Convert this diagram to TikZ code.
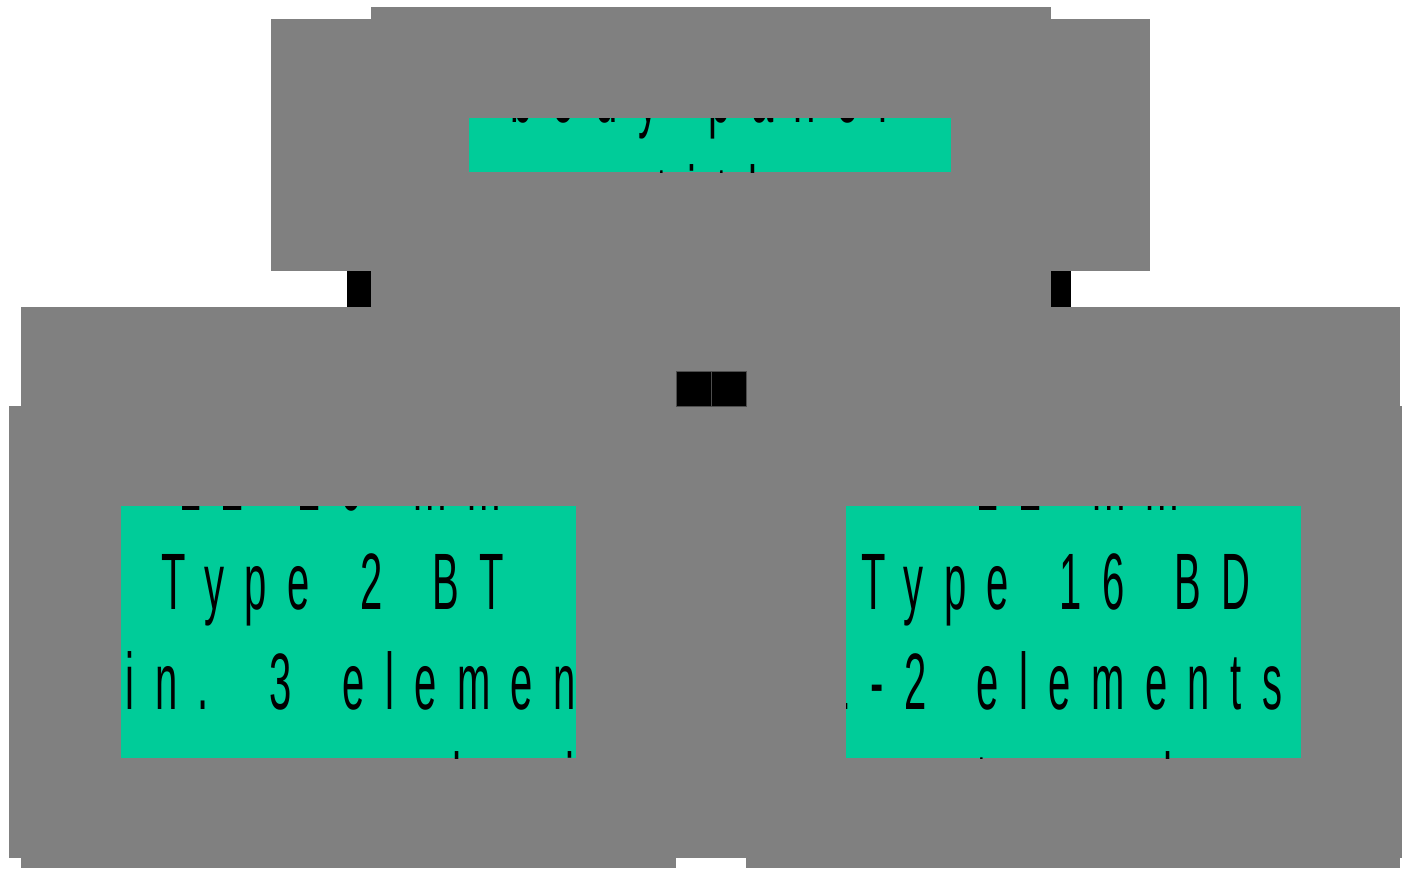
\documentclass[tikz,border=0pt]{standalone}
\usepackage{fontspec}
\newfontfamily\condfont[FakeStretch=0.5,LetterSpace=25.5,WordSpace=1.6]{Liberation Sans}
\definecolor{panelgray}{RGB}{128,128,128}
\definecolor{mint}{RGB}{0,204,153}
\tikzset{
  cover/.style={fill=panelgray},
  bar/.style={fill=black},
  window/.style={fill=mint},
  txt/.style={font=\condfont\fontsize{80}{100}\selectfont, anchor=base, inner sep=0pt, text=black},
}
\begin{document}
\begin{tikzpicture}[x=1pt,y=-1pt]
\useasboundingbox (0,0) rectangle (1402,868);
\fill[white] (0,0) rectangle (1402,868);
% grey covers
\fill[cover] (271,19) rectangle (1150,271);
\fill[cover] (371,7) rectangle (1051,307);
\fill[bar] (347,271) rectangle (371,307);
\fill[bar] (1051,271) rectangle (1071,307);
\fill[cover] (21,307) rectangle (676,868);
\fill[cover] (746,307) rectangle (1400,868);
\fill[cover] (676,307) rectangle (746,371);
\fill[cover] (9,406) rectangle (1402,858);
\filldraw[bar, draw=panelgray!60!black, line width=0.8pt] (676,371) rectangle (711,406);
\filldraw[bar, draw=panelgray!60!black, line width=0.8pt] (711,371) rectangle (746,406);
% top window
\begin{scope}
  \clip (469,118) rectangle (951,172);
  \fill[window] (469,118) rectangle (951,172);
  \node[txt] (topA) at (699,122) {body panel};
  \node[txt] (topB) at (728,222) {title};
\end{scope}
% left window
\begin{scope}
  \clip (121,506) rectangle (576,758);
  \fill[window] (121,506) rectangle (576,758);
  \node[txt] (l0) at (340,510) {12-20 mm};
  \node[txt] (l1) at (333,609) {Type 2 BT};
  \node[txt] (l2) at (360,709) {min. 3 elements};
  \node[txt] (l3) at (340,809) {Ribs on each side};
\end{scope}
% right window
\begin{scope}
  \clip (846,506) rectangle (1301,758);
  \fill[window] (846,506) rectangle (1301,758);
  \node[txt] (r0) at (1078,510) {12 mm};
  \node[txt] (r1) at (1056,609) {Type 16 BD};
  \node[txt] (r2) at (1055,709) {1-2 elements};
  \node[txt] (r3) at (1060,809) {at each};
\end{scope}
\end{tikzpicture}
\end{document}
